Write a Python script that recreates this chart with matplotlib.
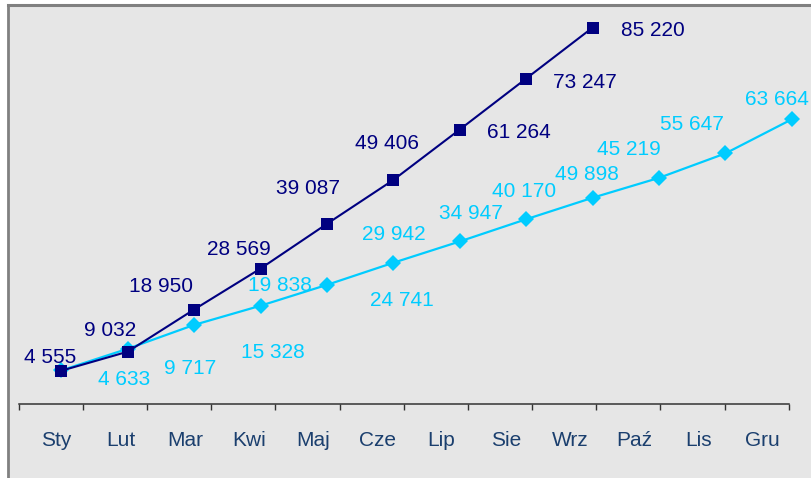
import matplotlib
matplotlib.use("Agg")
import matplotlib.pyplot as plt
import numpy as np
from matplotlib.lines import Line2D
from matplotlib.patches import Rectangle

plt.rcParams["font.family"] = ["Liberation Sans", "DejaVu Sans"]

months = ["Sty", "Lut", "Mar", "Kwi", "Maj", "Cze", "Lip", "Sie", "Wrz", "Paź", "Lis", "Gru"]
current_year = [4555, 9032, 18950, 28569, 39087, 49406, 61264, 73247, 85220]
previous_year = [4633, 9717, 15328, 19838, 24741, 29942, 34947, 40170, 45219, 49898, 55647, 63664]

# label placement, pixel offsets of the text centre from its point (right, down)
current_offsets = [(-11, -15), (-18, -23), (-33, -25), (-22, -21), (-19, -37),
                   (-6, -38), (59, 1), (59, 2), (60, 1)]
previous_offsets = [(63, 7), (62, 18), (79, 26), (19, -22), (75, 14), (0, -30),
                    (11, -30), (-2, -30), (36, -50), (-72, -5), (-33, -31), (-15, -22)]

NAVY = "#000080"
CYAN = "#00ccff"
TICK_TEXT = "#1b3f6e"
W, H = 811, 478


def fmt(v):
    return f"{v:,}".replace(",", " ")


fig = plt.figure(figsize=(W / 100, H / 100), dpi=100, facecolor="white")

# grey panel with a darker top/left edge
fig.patches.append(Rectangle((7.5 / W, 0), 1, 1 - 4.5 / H, transform=fig.transFigure,
                             facecolor="#e6e6e6", edgecolor="none", zorder=-10))
fig.lines.append(Line2D([7.5 / W, 1], [1 - 4.5 / H, 1 - 4.5 / H], transform=fig.transFigure,
                        color="#808080", linewidth=2.2, zorder=-5))
fig.lines.append(Line2D([7.5 / W, 7.5 / W], [0, 1 - 4.5 / H], transform=fig.transFigure,
                        color="#808080", linewidth=2.0, zorder=-5))

# category axis along the bottom
cat = fig.add_axes([18.7 / W, (H - 404.3) / H, 770 / W, 0.05])
cat.set_facecolor("none")
for side in ("top", "left", "right"):
    cat.spines[side].set_visible(False)
cat.spines["bottom"].set_color("#333333")
cat.spines["bottom"].set_linewidth(1.1)
cat.set_xlim(0, 12)
cat.set_yticks([])
cat.set_xticks(np.arange(13))
cat.set_xticklabels([])
cat.tick_params(axis="x", which="major", direction="out", length=4.5, width=1.0, color="#333333")
cat.set_xticks(np.arange(12) + 0.59, minor=True)
cat.set_xticklabels(months, minor=True)
cat.tick_params(axis="x", which="minor", length=0, pad=19, labelsize=15, labelcolor=TICK_TEXT)

# data lines
ax = fig.add_axes([0, 0, 1, 1])
ax.set_facecolor("none")
ax.axis("off")
ax.set_xlim(-0.923, 11.29)
ax.set_ylim(-20668, 91724)

ax.plot(range(len(previous_year)), previous_year, color=CYAN, linewidth=1.6,
        marker="D", markersize=7.8, markeredgewidth=0, zorder=3)
ax.plot(range(len(current_year)), current_year, color=NAVY, linewidth=1.5,
        marker="s", markersize=9, markeredgewidth=0, zorder=4)

for i, (v, (dx, dy)) in enumerate(zip(current_year, current_offsets)):
    ax.annotate(fmt(v), (i, v), xytext=(dx, -dy - 7.3), textcoords="offset pixels",
                ha="center", va="baseline", fontsize=15, color=NAVY, zorder=5)
for i, (v, (dx, dy)) in enumerate(zip(previous_year, previous_offsets)):
    ax.annotate(fmt(v), (i, v), xytext=(dx, -dy - 7.3), textcoords="offset pixels",
                ha="center", va="baseline", fontsize=15, color=CYAN, zorder=5)

fig.savefig("out.png", dpi=100, facecolor=fig.get_facecolor())
